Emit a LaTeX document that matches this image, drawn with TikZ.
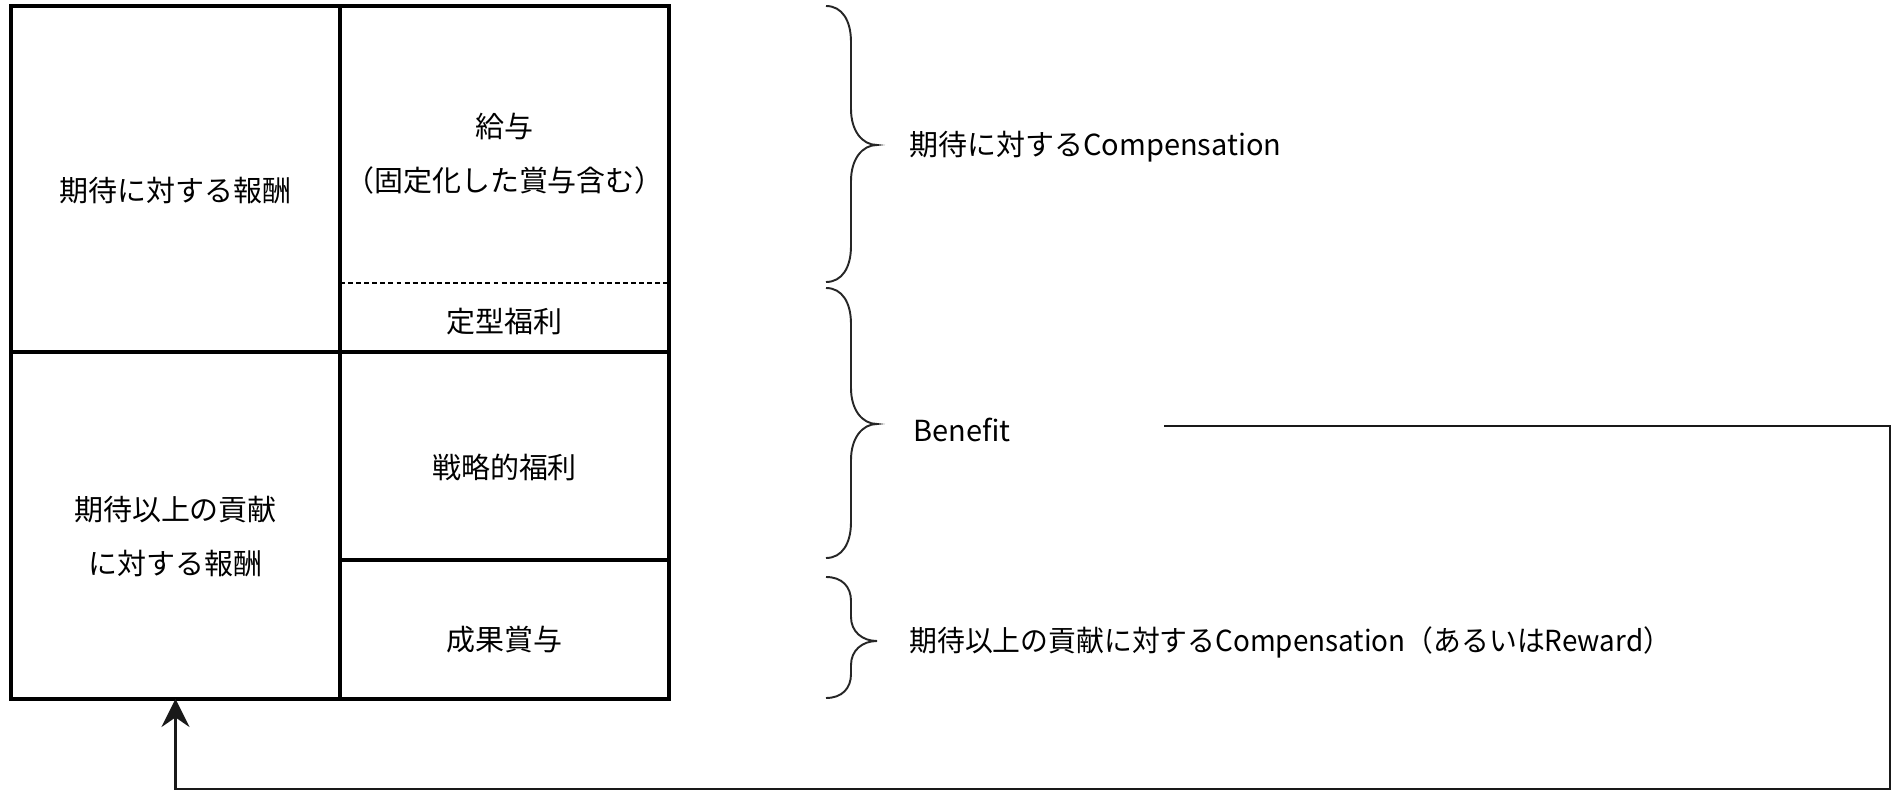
\documentclass[tikz,border=0pt]{standalone}
\usepackage{fontspec}
\setmainfont{Noto Sans CJK JP}
\usetikzlibrary{arrows.meta}
\newcommand\mybrace[4]{%
  \draw[brc] (826,#1) .. controls (842,#1) and (851,{#1+0.4*#4}) .. (851,{#1+#4})
    -- (851,{#2-#4}) .. controls (851,{#2-0.4*#4}) and (862,#2) .. (877,#2)
    .. controls (862,#2) and (851,{#2+0.4*#4}) .. (851,{#2+#4})
    -- (851,{#3-#4}) .. controls (851,{#3-0.4*#4}) and (842,#3) .. (826,#3);}
\begin{document}
\begin{tikzpicture}[x=0.02cm,y=-0.02cm,
  grid/.style={line width=2.3pt, line cap=rect},
  thindash/.style={line width=0.8pt, dash pattern=on 2.8pt off 1.8pt},
  lbl/.style={font=\fontsize{16.5}{30.6}\selectfont, align=center, inner sep=0pt},
  side/.style={font=\fontsize{16.5}{20}\selectfont, anchor=west, inner sep=0pt},
  brc/.style={line width=1.1pt, color=black!85},
  conn/.style={line width=1.2pt, color=black!90},
  cellbox/.style={inner sep=0pt, outer sep=0pt, minimum width=6.58cm, minimum height=6.94cm}
]
\useasboundingbox (0,0) rectangle (1896,793);
% grid
\draw[grid] (11,6) rectangle (669,699);
\draw[grid] (340,6) -- (340,699);
\draw[grid] (11,352) -- (669,352);
\draw[grid] (340,560) -- (669,560);
\draw[thindash] (340,283) -- (669,283);
\node[cellbox] (lbcell) at (175.5,525.5) {};
% cell texts
\node[lbl] (t1) at (175.5,191) {期待に対する報酬};
\node[lbl] (t2) at (504.5,153.5) {給与\\（固定化した賞与含む）};
\node[lbl] (t3) at (504.5,322) {定型福利};
\node[lbl] (t4) at (504.5,467) {戦略的福利};
\node[lbl] (t5) at (175.5,536.5) {期待以上の貢献\\に対する報酬};
\node[lbl] (t6) at (504.5,640) {成果賞与};
% braces
\mybrace{6}{145}{282}{36}
\mybrace{288}{424}{558}{36}
\mybrace{577}{641}{698}{24}
% side texts
\node[side] (s1) at (909,147) {期待に対するCompensation};
\node[side] (s2) at (913,430) {Benefit};
\node[side] (s3) at (909,642) {\scalebox{0.96}[1]{期待以上の貢献に対するCompensation（あるいはReward）}};
% connector
\coordinate (bstart) at (1164,426);
\coordinate (bcorner) at (1890,789);
\draw[conn,-{Stealth[length=16pt,width=16pt,inset=5.5pt]}] (bstart) -| (bcorner) -| (lbcell.south);
\end{tikzpicture}
\end{document}
